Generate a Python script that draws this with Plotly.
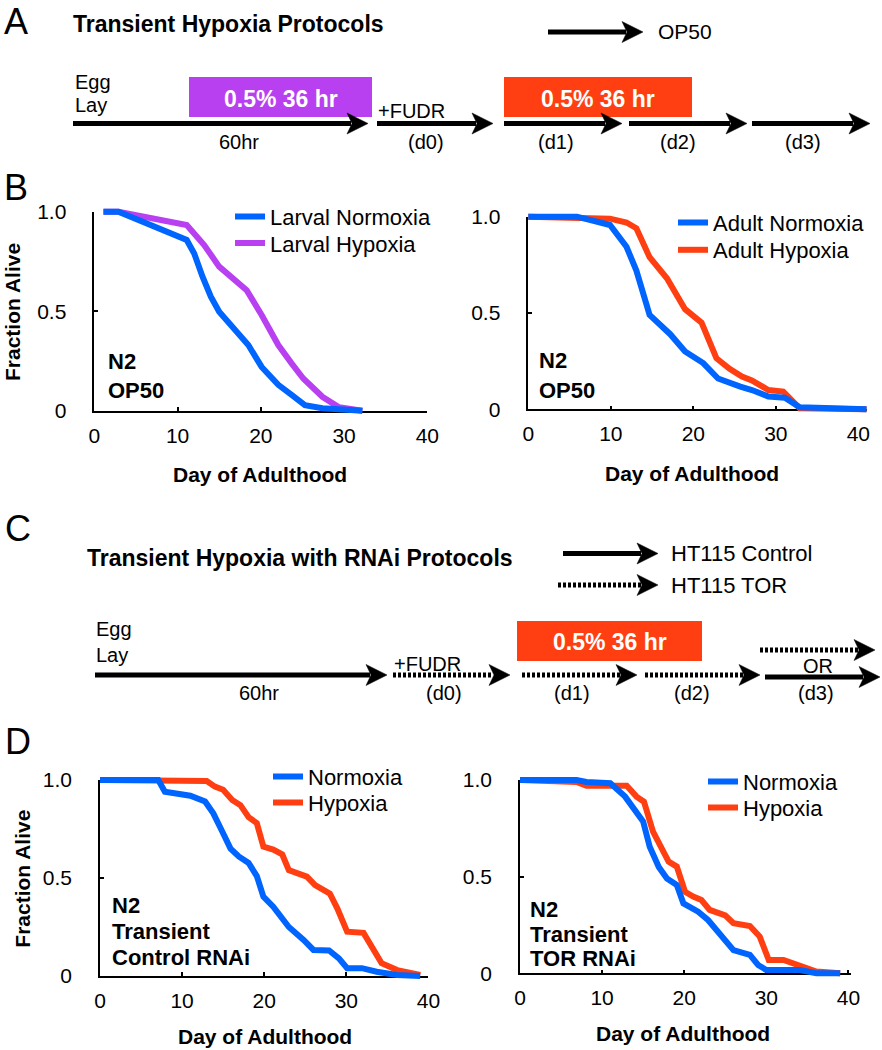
import plotly.graph_objects as go

W, H = 882, 1050
FONT = "Liberation Sans, Arial, Helvetica, sans-serif"
BLUE = "#0064FF"
RED = "#FF3F12"
PURPLE = "#B940F0"

# ---------------- data ----------------
# Panel B left (larval)
larval_norm_day = [1.1, 2.9, 11.1, 12.0, 13.0, 14.0, 15.0, 16.8, 18.5, 20.1, 22.1, 23.7, 25.3, 27.4, 32.2]
larval_norm_frac = [1.0, 1.0, 0.858, 0.79, 0.673, 0.573, 0.497, 0.414, 0.33, 0.22, 0.13, 0.079, 0.028, 0.012, 0.0]
larval_hyp_day = [1.1, 2.9, 11.1, 13.2, 15.0, 16.8, 18.3, 20.1, 22.1, 23.7, 25.1, 27.4, 29.4, 32.2]
larval_hyp_frac = [1.0, 1.0, 0.933, 0.832, 0.724, 0.657, 0.606, 0.481, 0.33, 0.238, 0.162, 0.07, 0.017, 0.0]

# Panel B right (adult)
adult_norm_day = [0, 5.9, 9.9, 11.9, 13.1, 14.7, 17.2, 19.0, 21.2, 23.0, 25.7, 27.1, 29.1, 31.1, 32.9, 41]
adult_norm_frac = [1.0, 1.0, 0.957, 0.844, 0.72, 0.49, 0.39, 0.30, 0.24, 0.16, 0.118, 0.10, 0.066, 0.06, 0.01, 0.0]
adult_hyp_day = [0, 9.9, 11.9, 13.1, 14.7, 16.8, 19.0, 21.0, 22.8, 24.4, 25.9, 27.1, 29.1, 30.9, 32.9, 41]
adult_hyp_frac = [1.0, 0.99, 0.97, 0.94, 0.79, 0.68, 0.52, 0.45, 0.265, 0.21, 0.17, 0.15, 0.10, 0.092, 0.005, 0.0]

# Panel D left (control RNAi)
ctrl_norm_day = [0, 7.1, 7.9, 11.0, 12.8, 13.8, 14.8, 15.9, 16.9, 18.1, 19.1, 19.9, 21.1, 22.0, 23.0, 24.8, 26.0,
                 27.9, 29.1, 30.1, 31.9, 33.7, 36.2, 39.0]
ctrl_norm_frac = [1.0, 1.0, 0.94, 0.92, 0.89, 0.83, 0.745, 0.65, 0.61, 0.577, 0.51, 0.405, 0.354, 0.30, 0.25, 0.184,
                  0.133, 0.13, 0.09, 0.04, 0.04, 0.022, 0.005, 0.0]
ctrl_hyp_day = [0, 7.7, 11.4, 13.0, 14.0, 15.0, 16.1, 17.1, 18.1, 19.1, 19.9, 21.1, 22.2, 23.0, 24.0, 25.2, 26.2,
                28.0, 28.9, 30.1, 32.1, 34.3, 36.2, 39.0]
ctrl_hyp_frac = [1.0, 1.0, 1.0, 0.995, 0.966, 0.95, 0.898, 0.872, 0.81, 0.78, 0.66, 0.645, 0.62, 0.54, 0.525, 0.507,
                 0.464, 0.42, 0.345, 0.226, 0.22, 0.065, 0.03, 0.005]

# Panel D right (TOR RNAi)
tor_norm_day = [0, 6.9, 8.1, 11.0, 12.8, 15.0, 15.8, 16.9, 17.9, 19.1, 19.9, 21.7, 22.9, 24.4, 26.0, 28.0, 29.0,
                30.0, 34.1, 36.1, 39.0]
tor_norm_frac = [1.0, 1.0, 0.99, 0.983, 0.914, 0.785, 0.655, 0.55, 0.49, 0.457, 0.362, 0.319, 0.276, 0.198, 0.12,
                 0.095, 0.043, 0.017, 0.017, 0.0, 0.0]
tor_hyp_day = [0, 6.9, 8.1, 11.0, 13.0, 14.2, 15.1, 16.2, 17.3, 18.1, 19.1, 20.1, 21.1, 22.1, 23.1, 25.0, 26.0,
               28.0, 29.2, 30.3, 32.1, 34.1, 36.1, 39.0]
tor_hyp_frac = [1.0, 0.99, 0.97, 0.97, 0.97, 0.914, 0.888, 0.733, 0.647, 0.578, 0.552, 0.422, 0.397, 0.379, 0.328,
                0.30, 0.259, 0.245, 0.19, 0.069, 0.069, 0.043, 0.009, 0.0]

x_ticks = [0, 10, 20, 30, 40]
x_tick_labels = ["0", "10", "20", "30", "40"]
y_ticks = [0, 0.5, 1.0]
y_tick_labels = ["0", "0.5", "1.0"]

panels = [
    dict(x0=94.3, ppd=8.325, xmax=40, y0=410.7, y1=211.7,
         series=[("Larval Normoxia", larval_norm_day, larval_norm_frac, BLUE),
                 ("Larval Hypoxia", larval_hyp_day, larval_hyp_frac, PURPLE)],
         leg=(270, [216.7, 243.3]), lab=["N2", "OP50"], labpos=(106, [361.7, 390]),
         xtitle=(260, 475), ytitle=(12.5, 312.5)),
    dict(x0=528.3, ppd=8.25, xmax=41, y0=409.3, y1=216.7,
         series=[("Adult Normoxia", adult_norm_day, adult_norm_frac, BLUE),
                 ("Adult Hypoxia", adult_hyp_day, adult_hyp_frac, RED)],
         leg=(713, [222.7, 250]), lab=["N2", "OP50"], labpos=(537, [360, 390]),
         xtitle=(692, 473), ytitle=None),
    dict(x0=100, ppd=8.21, xmax=40, y0=976, y1=780,
         series=[("Normoxia", ctrl_norm_day, ctrl_norm_frac, BLUE),
                 ("Hypoxia", ctrl_hyp_day, ctrl_hyp_frac, RED)],
         leg=(308, [776.7, 802.7]), lab=["N2", "Transient", "Control RNAi"], labpos=(110, [905, 931, 957]),
         xtitle=(265, 1036.7), ytitle=(21.7, 879)),
    dict(x0=520, ppd=8.21, xmax=40.3, y0=973.3, y1=780,
         series=[("Normoxia", tor_norm_day, tor_norm_frac, BLUE),
                 ("Hypoxia", tor_hyp_day, tor_hyp_frac, RED)],
         leg=(743, [781.7, 807.7]), lab=["N2", "Transient", "TOR RNAi"], labpos=(528, [909, 934, 958]),
         xtitle=(683, 1033), ytitle=None),
]


def px(x):
    return x / W


def py(y):
    return 1 - y / H


fig = go.Figure()
layout = {}
annotations = []
shapes = []
PAD = 8
leg_count = 0

for i, p in enumerate(panels):
    fi = i + 1          # frame axes index
    di = i + 5          # data axes index
    xs = "" if fi == 1 else str(fi)
    x_end = p["x0"] + p["xmax"] * p["ppd"]
    ppu = p["y0"] - p["y1"]
    frame_x = dict(domain=[px(p["x0"]), px(x_end)], range=[0, p["xmax"]], anchor="y" + xs,
                   showline=True, linecolor="black", linewidth=1.5, ticks="inside", ticklen=4,
                   tickwidth=1.5, tickcolor="black", tickvals=x_ticks, ticktext=x_tick_labels,
                   showgrid=False, zeroline=False, tickfont=dict(family=FONT, size=21, color="black"),
                   ticklabelstandoff=5, fixedrange=True, automargin=False)
    frame_y = dict(domain=[py(p["y0"]), py(p["y1"])], range=[0, 1], anchor="x" + xs,
                   showline=True, linecolor="black", linewidth=1.5, ticks="inside", ticklen=4,
                   tickwidth=1.5, tickcolor="black", tickvals=y_ticks, ticktext=y_tick_labels,
                   showgrid=False, zeroline=False, tickfont=dict(family=FONT, size=21, color="black"),
                   ticklabelstandoff=22, fixedrange=True, automargin=False)
    layout["xaxis" + xs] = frame_x
    layout["yaxis" + xs] = frame_y
    fig.add_trace(go.Scatter(x=[None], y=[None], xaxis="x" + xs, yaxis="y" + xs,
                             showlegend=False, hoverinfo="skip"))

    data_x = dict(domain=[px(p["x0"] - PAD), px(x_end + PAD)],
                  range=[-PAD / p["ppd"], p["xmax"] + PAD / p["ppd"]], anchor="y" + str(di),
                  visible=False, fixedrange=True, automargin=False)
    data_y = dict(domain=[py(p["y0"] + PAD), py(p["y1"] - PAD)],
                  range=[-PAD / ppu, 1 + PAD / ppu], anchor="x" + str(di),
                  visible=False, fixedrange=True, automargin=False)
    layout["xaxis" + str(di)] = data_x
    layout["yaxis" + str(di)] = data_y

    lx_text, lrows = p["leg"]
    # hypoxia drawn first so normoxia (blue) sits on top, as in the reference
    for (name, xd, yd, col), ly in reversed(list(zip(p["series"], lrows))):
        leg_count += 1
        legname = "legend" if leg_count == 1 else "legend" + str(leg_count)
        fig.add_trace(go.Scatter(x=xd, y=yd, mode="lines", name=name,
                                 line=dict(color=col, width=6, shape="linear"),
                                 xaxis="x" + str(di), yaxis="y" + str(di), legend=legname))
        layout[legname] = dict(x=px(lx_text - 40), y=py(ly), xanchor="left", yanchor="middle",
                               bgcolor="rgba(0,0,0,0)", borderwidth=0,
                               font=dict(family=FONT, size=22, color="black"),
                               tracegroupgap=0, itemwidth=30)

    lx, lys = p["labpos"]
    for t, ly in zip(p["lab"], lys):
        annotations.append(dict(text="<b>%s</b>" % t, x=px(lx), y=py(ly), xref="paper", yref="paper",
                                xanchor="left", yanchor="middle", showarrow=False,
                                font=dict(family=FONT, size=22, color="black")))
    tx, ty = p["xtitle"]
    annotations.append(dict(text="<b>Day of Adulthood</b>", x=px(tx), y=py(ty), xref="paper", yref="paper",
                            xanchor="center", yanchor="middle", showarrow=False,
                            font=dict(family=FONT, size=21, color="black")))
    if p["ytitle"]:
        tx, ty = p["ytitle"]
        annotations.append(dict(text="<b>Fraction Alive</b>", x=px(tx), y=py(ty), xref="paper", yref="paper",
                                xanchor="center", yanchor="middle", showarrow=False, textangle=-90,
                                font=dict(family=FONT, size=21, color="black")))


# ---------------- schematic panels ----------------
def text(t, x, y, size=20, bold=False, anchor="left", color="black"):
    annotations.append(dict(text=("<b>%s</b>" % t) if bold else t, x=px(x), y=py(y), xref="paper",
                            yref="paper", xanchor=anchor, yanchor="middle", showarrow=False,
                            font=dict(family=FONT, size=size, color=color)))


def arrow(x0, x1, y, dotted=False, head=21, hh=10.5, lw=5):
    shapes.append(dict(type="line", xref="paper", yref="paper", x0=px(x0), x1=px(x1 - head + 4),
                       y0=py(y), y1=py(y),
                       line=dict(color="black", width=lw, dash="3px,2px" if dotted else "solid")))
    path = "M %f,%f L %f,%f L %f,%f L %f,%f Z" % (
        px(x1), py(y), px(x1 - head), py(y - hh), px(x1 - head + 5), py(y), px(x1 - head), py(y + hh))
    shapes.append(dict(type="path", xref="paper", yref="paper", path=path,
                       fillcolor="black", line=dict(color="black", width=0.5)))


def box(x0, x1, y0, y1, color, label, cy):
    shapes.append(dict(type="rect", xref="paper", yref="paper", x0=px(x0), x1=px(x1), y0=py(y1), y1=py(y0),
                       fillcolor=color, line=dict(width=0), layer="below"))
    text(label, (x0 + x1) / 2, cy, size=23, bold=True, anchor="center", color="white")


# panel letters
text("A", 2, 21, size=36)
text("B", 2, 188, size=36)
text("C", 3, 528, size=36)
text("D", 3, 741, size=36)

# Panel A
text("Transient Hypoxia Protocols", 71, 24, size=23, bold=True)
arrow(548, 643, 32)
text("OP50", 656, 32, size=21)
text("Egg", 73, 82, size=20)
text("Lay", 73, 105, size=20)
box(189, 372, 77, 117, PURPLE, "0.5% 36 hr", 99.5)
box(504, 692, 77, 117, RED, "0.5% 36 hr", 99.5)
arrow(73, 368, 123.5)
arrow(377, 493, 123.5)
arrow(504, 622, 123.5)
arrow(629, 747, 123.5)
arrow(752, 870, 123.5)
text("60hr", 239, 141.5, size=20, anchor="center")
text("+FUDR", 376, 110.5, size=20)
text("(d0)", 426, 141.5, size=20, anchor="center")
text("(d1)", 556, 141.5, size=20, anchor="center")
text("(d2)", 678, 141.5, size=20, anchor="center")
text("(d3)", 803, 141.5, size=20, anchor="center")

# Panel C
text("Transient Hypoxia with RNAi Protocols", 85, 558, size=23, bold=True)
arrow(563, 658, 553.5)
text("HT115 Control", 669, 553.5, size=22)
arrow(558, 658, 585, dotted=True)
text("HT115 TOR", 669, 585, size=22)
text("Egg", 94, 629, size=20)
text("Lay", 94, 655, size=20)
box(517, 702, 621, 661, RED, "0.5% 36 hr", 642)
arrow(95, 387, 675)
arrow(393, 510, 675, dotted=True)
arrow(522, 637, 675, dotted=True)
arrow(645, 760, 675, dotted=True)
arrow(760, 875, 650, dotted=True)
arrow(765, 880, 677)
text("60hr", 259, 692.5, size=20, anchor="center")
text("+FUDR", 392, 663.5, size=20)
text("OR", 818, 666, size=20, anchor="center")
text("(d0)", 444, 692.5, size=20, anchor="center")
text("(d1)", 572, 692.5, size=20, anchor="center")
text("(d2)", 692, 692.5, size=20, anchor="center")
text("(d3)", 816, 692.5, size=20, anchor="center")

fig.update_layout(**layout)
fig.update_layout(width=W, height=H, margin=dict(l=0, r=0, t=0, b=0, pad=0, autoexpand=False),
                  paper_bgcolor="white", plot_bgcolor="rgba(0,0,0,0)",
                  annotations=annotations, shapes=shapes, showlegend=True,
                  font=dict(family=FONT, color="black"))
fig.write_html("out.html", config={"displayModeBar": False},
               post_script="document.body.style.margin='0px';document.body.style.overflow='hidden';")
